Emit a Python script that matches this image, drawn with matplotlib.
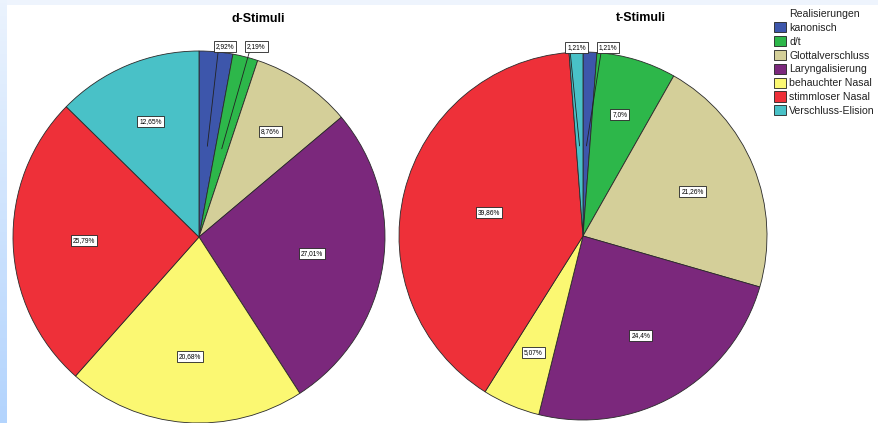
import numpy as np
import matplotlib
matplotlib.use("Agg")
import matplotlib.pyplot as plt
from matplotlib.patches import Patch

plt.rcParams["font.family"] = ["Liberation Sans", "DejaVu Sans"]

# ------------------------------------------------------------------
# data (percent per realisation)
# ------------------------------------------------------------------
categories = ["kanonisch", "d/t", "Glottalverschluss", "Laryngalisierung",
              "behauchter Nasal", "stimmloser Nasal", "Verschluss-Elision"]
d_values = [2.92, 2.19, 8.76, 27.01, 20.68, 25.79, 12.65]
t_values = [1.21, 7.0, 21.26, 24.4, 5.07, 39.86, 1.21]
d_labels = ["2,92%", "2,19%", "8,76%", "27,01%", "20,68%", "25,79%", "12,65%"]
t_labels = ["1,21%", "7,0%", "21,26%", "24,4%", "5,07%", "39,86%", "1,21%"]

colors = ["#3d56ab", "#2db74a", "#d4cf99", "#7b287c",
          "#fbf872", "#ee3039", "#49c1c7"]

W, H = 879, 423
fig = plt.figure(figsize=(W / 100, H / 100), dpi=100)
fig.patch.set_facecolor("white")

# light blue frame strips (top and left)
top = fig.add_axes([0, 1 - 5 / H, 1, 5 / H])
top.set_facecolor("#eef4fd")
top.set_xticks([]); top.set_yticks([])
for s in top.spines.values():
    s.set_visible(False)
left = fig.add_axes([0, 0, 7 / W, 1])
grad = np.linspace(0, 1, 100).reshape(-1, 1)
left.imshow(grad, aspect="auto", extent=[0, 1, 0, 1], origin="upper",
            cmap=matplotlib.colors.LinearSegmentedColormap.from_list(
                "bl", ["#ebf3fd", "#b3d4fd"]))
left.axis("off")


def draw_pie(ax, values, labels):
    wedges, _ = ax.pie(values, colors=colors, startangle=90, counterclock=False,
                       radius=1.0,
                       wedgeprops=dict(edgecolor="#2a2a2a", linewidth=0.6))
    ax.set_xlim(-1, 1)
    ax.set_ylim(-1, 1)
    ax.set_aspect("equal")
    ax.axis("off")
    box = dict(boxstyle="square,pad=0.3", fc="white", ec="#222222", lw=0.6)
    # small slices get labels above the pie, sorted left to right
    small = []
    for w, v, lab in zip(wedges, values, labels):
        mid = np.deg2rad((w.theta1 + w.theta2) / 2)
        if v < 5:
            small.append([np.cos(mid) * 1.02 + 0.05, mid, lab])
        else:
            # roughly at the wedge centroid, like SPSS does
            half = np.deg2rad(abs(w.theta2 - w.theta1) / 2)
            r = 1.04 * 2 * np.sin(half) / (3 * half)
            ax.text(r * np.cos(mid), r * np.sin(mid), lab, ha="center", va="center",
                    fontsize=4.8, bbox=box, zorder=5)
    small.sort(key=lambda s: s[0])
    gap = 0.17
    for a, b in zip(small, small[1:]):
        if b[0] - a[0] < gap:
            m = (a[0] + b[0]) / 2
            a[0], b[0] = m - gap / 2, m + gap / 2
    for lx, mid, lab in small:
        ax.annotate(lab, xy=(0.49 * np.cos(mid), 0.49 * np.sin(mid)),
                    xytext=(lx, 1.025), ha="center", va="center", fontsize=4.8,
                    bbox=box, zorder=5, annotation_clip=False,
                    arrowprops=dict(arrowstyle="-", color="#222222", lw=0.6,
                                    relpos=(0.15, 0), shrinkA=0, shrinkB=0))


# left pie: centre (199, 237) px, radius 186 px
r1 = 186
ax1 = fig.add_axes([(199 - r1) / W, (H - 237 - r1) / H, 2 * r1 / W, 2 * r1 / H])
draw_pie(ax1, d_values, d_labels)

# right pie: centre (583, 236) px, radius 184 px
r2 = 184
ax2 = fig.add_axes([(583 - r2) / W, (H - 236 - r2) / H, 2 * r2 / W, 2 * r2 / H])
draw_pie(ax2, t_values, t_labels)

fig.text(258 / W, 1 - 19 / H, "d-Stimuli", ha="center", va="center",
         fontsize=9, fontweight="bold")
fig.text(641 / W, 1 - 18 / H, "t-Stimuli", ha="center", va="center",
         fontsize=9, fontweight="bold")

handles = [Patch(facecolor=c, edgecolor="#222222", linewidth=0.6) for c in colors]
leg = fig.legend(handles, categories, title="Realisierungen",
                 loc="upper left", bbox_to_anchor=(772 / W, 1 - 7 / H),
                 frameon=False, fontsize=7.6, title_fontsize=7.6,
                 handlelength=1.15, handleheight=1.1, handletextpad=0.3,
                 labelspacing=0.3, borderpad=0.2, borderaxespad=0)
for t in leg.get_texts():
    t.set_color("#222222")
leg.get_title().set_color("#222222")

fig.savefig("out.png", dpi=100)
